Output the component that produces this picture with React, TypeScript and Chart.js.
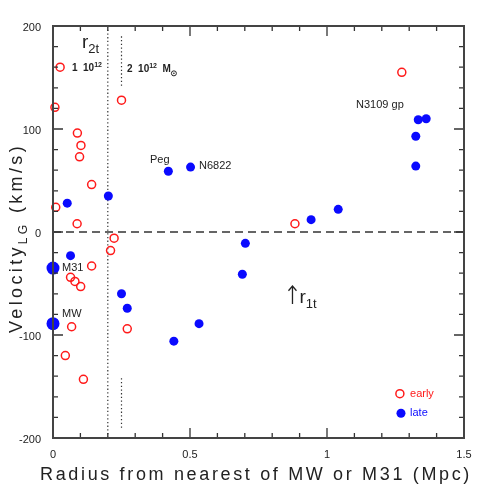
import React, { useEffect, useRef } from "react";
import { Chart, registerables } from "chart.js";

Chart.register(...registerables);

// ---- data ----
const earlyX = [0.026, 0.007, 0.25, 0.089, 0.102, 0.097, 0.141, 0.01, 0.088, 0.223, 0.21, 0.141, 0.064, 0.08, 0.101, 0.068, 0.271, 0.045, 0.111, 0.883, 1.273];
const earlyY = [160, 121, 128, 96, 84, 73, 46, 24, 8, -6, -18, -33, -44, -48, -53, -92, -94, -120, -143, 8, 155];

const lateX = [0.421, 0.502, 0.202, 0.052, 0.064, 0.25, 0.271, 0.533, 0.441, 0.942, 1.041, 0.702, 0.691, 1.333, 1.362, 1.324, 1.324];
const lateY = [59, 63, 35, 28, -23, -60, -74, -89, -106, 12, 22, -11, -41, 109, 110, 93, 64];

const hostNames = ["M31", "MW"];
const hostX = [0, 0];
const hostY = [-35, -89];

const xTickValues = [0, 0.5, 1, 1.5];
const xTickLabels = ["0", "0.5", "1", "1.5"];
const yTickValues = [-200, -100, 0, 100, 200];
const yTickLabels = ["-200", "-100", "0", "100", "200"];
const xMinorStep = 0.1;
const yMinorStep = 20;

const r2tLineX = 0.2;
const massMarkX = 0.25;
const massMarkUpper = [142, 190];
const massMarkLower = [-190, -142];

const RED = "#ff1a1a";
const BLUE = "#0a0aff";
const INK = "#222";
const FONT = "'Liberation Sans', Arial, sans-serif";

type Part = { t: string; size: number; dy?: number; bold?: boolean };

function measureParts(ctx: CanvasRenderingContext2D, parts: Part[]) {
  let w = 0;
  for (const p of parts) {
    ctx.font = `${p.bold ? "bold " : ""}${p.size}px ${FONT}`;
    w += ctx.measureText(p.t).width;
  }
  return w;
}

function drawParts(ctx: CanvasRenderingContext2D, parts: Part[], x: number, y: number) {
  let cx = x;
  for (const p of parts) {
    ctx.font = `${p.bold ? "bold " : ""}${p.size}px ${FONT}`;
    ctx.fillText(p.t, cx, y + (p.dy || 0));
    cx += ctx.measureText(p.t).width;
  }
  return cx - x;
}

const decorPlugin = {
  id: "decor",
  beforeDatasetsDraw(chart: any) {
    const ctx = chart.ctx as CanvasRenderingContext2D;
    const xs = chart.scales.x;
    const ys = chart.scales.y;
    const a = chart.chartArea;
    ctx.save();
    ctx.strokeStyle = "#333";
    ctx.lineWidth = 1.5;
    ctx.setLineDash([8, 5]);
    ctx.beginPath();
    ctx.moveTo(a.left, ys.getPixelForValue(0));
    ctx.lineTo(a.right, ys.getPixelForValue(0));
    ctx.stroke();
    ctx.lineWidth = 1.2;
    ctx.setLineDash([1.3, 2.4]);
    ctx.beginPath();
    ctx.moveTo(xs.getPixelForValue(r2tLineX), a.top);
    ctx.lineTo(xs.getPixelForValue(r2tLineX), a.bottom);
    ctx.stroke();
    for (const seg of [massMarkUpper, massMarkLower]) {
      ctx.beginPath();
      ctx.moveTo(xs.getPixelForValue(massMarkX), ys.getPixelForValue(seg[0]));
      ctx.lineTo(xs.getPixelForValue(massMarkX), ys.getPixelForValue(seg[1]));
      ctx.stroke();
    }
    ctx.restore();
  },
  afterDatasetsDraw(chart: any) {
    const ctx = chart.ctx as CanvasRenderingContext2D;
    const xs = chart.scales.x;
    const ys = chart.scales.y;
    const a = chart.chartArea;
    const X = (v: number) => xs.getPixelForValue(v);
    const Y = (v: number) => ys.getPixelForValue(v);
    ctx.save();
    ctx.strokeStyle = "#333";
    ctx.lineWidth = 1.3;
    ctx.setLineDash([]);
    const nx = Math.round((xs.max - xs.min) / xMinorStep);
    for (let i = 0; i <= nx; i++) {
      const v = xs.min + i * xMinorStep;
      const major = xTickValues.some((t) => Math.abs(t - v) < 1e-6);
      const len = major ? 10 : 5;
      const px = X(v);
      ctx.beginPath();
      ctx.moveTo(px, a.bottom); ctx.lineTo(px, a.bottom - len);
      ctx.moveTo(px, a.top); ctx.lineTo(px, a.top + len);
      ctx.stroke();
    }
    const ny = Math.round((ys.max - ys.min) / yMinorStep);
    for (let i = 0; i <= ny; i++) {
      const v = ys.min + i * yMinorStep;
      const major = yTickValues.some((t) => Math.abs(t - v) < 1e-6);
      const len = major ? 10 : 5;
      const py = Y(v);
      ctx.beginPath();
      ctx.moveTo(a.left, py); ctx.lineTo(a.left + len, py);
      ctx.moveTo(a.right, py); ctx.lineTo(a.right - len, py);
      ctx.stroke();
    }
    ctx.strokeStyle = "#444";
    ctx.lineWidth = 2;
    ctx.strokeRect(a.left, a.top, a.right - a.left, a.bottom - a.top);

    ctx.fillStyle = INK;
    ctx.font = `11px ${FONT}`;
    ctx.textAlign = "right";
    ctx.textBaseline = "middle";
    yTickValues.forEach((v, i) => ctx.fillText(yTickLabels[i], a.left - 12, Y(v) + 2));
    ctx.textAlign = "center";
    xTickValues.forEach((v, i) => ctx.fillText(xTickLabels[i], X(v), a.bottom + 17));

    // x title
    const xt = "Radius from nearest of MW or M31 (Mpc)";
    ctx.font = `18px ${FONT}`;
    ctx.textAlign = "left";
    ctx.textBaseline = "alphabetic";
    (ctx as any).letterSpacing = "0px";
    const w0 = ctx.measureText(xt).width;
    (ctx as any).letterSpacing = `${(432 - w0) / xt.length}px`;
    ctx.fillText(xt, 40, 480);
    (ctx as any).letterSpacing = "0px";

    // y title
    const yParts: Part[] = [
      { t: "Velocity", size: 18 },
      { t: "LG", size: 12, dy: 5 },
      { t: " (km/s)", size: 18 },
    ];
    const yw = measureParts(ctx, yParts);
    const nChars = yParts.reduce((s, p) => s + p.t.length, 0);
    ctx.save();
    ctx.translate(22, 333);
    ctx.rotate(-Math.PI / 2);
    (ctx as any).letterSpacing = `${(190 - yw) / nChars}px`;
    drawParts(ctx, yParts, 0, 0);
    (ctx as any).letterSpacing = "0px";
    ctx.restore();

    // annotations
    ctx.fillStyle = INK;
    ctx.textBaseline = "middle";
    ctx.font = `11px ${FONT}`;
    ctx.fillText("Peg", X(0.354), Y(70));
    ctx.fillText("N6822", X(0.533), Y(64));
    ctx.fillText("N3109 gp", X(1.106), Y(123));
    hostNames.forEach((n, i) => {
      const dy = i === 0 ? 0 : 9.5;
      ctx.fillText(n, X(hostX[i] + 0.033), Y(hostY[i] + dy));
    });

    ctx.textBaseline = "alphabetic";
    drawParts(ctx, [
      { t: "r", size: 19 },
      { t: "2t", size: 13, dy: 5 },
    ], X(0.106), Y(179));
    drawParts(ctx, [
      { t: "1  10", size: 10, bold: true },
      { t: "12", size: 7, dy: -4, bold: true },
    ], X(0.069), Y(156));
    const w = drawParts(ctx, [
      { t: "2  10", size: 10, bold: true },
      { t: "12", size: 7, dy: -4, bold: true },
      { t: "  M", size: 10, bold: true },
    ], X(0.27), Y(155));
    const sx = X(0.27) + w + 3;
    const sy = Y(155) + 1;
    ctx.beginPath();
    ctx.lineWidth = 1;
    ctx.strokeStyle = INK;
    ctx.arc(sx, sy, 2.5, 0, Math.PI * 2);
    ctx.stroke();
    ctx.beginPath();
    ctx.arc(sx, sy, 0.8, 0, Math.PI * 2);
    ctx.fill();

    // r1t arrow
    const ax = X(0.874);
    ctx.strokeStyle = INK;
    ctx.lineWidth = 1.3;
    ctx.beginPath();
    ctx.moveTo(ax, Y(-70));
    ctx.lineTo(ax, Y(-53));
    ctx.moveTo(ax - 4, Y(-57));
    ctx.lineTo(ax, Y(-52.5));
    ctx.lineTo(ax + 4, Y(-57));
    ctx.stroke();
    drawParts(ctx, [
      { t: "r", size: 19 },
      { t: "1t", size: 13, dy: 5 },
    ], ax + 7, Y(-69));

    // legend
    ctx.lineWidth = 1.5;
    ctx.strokeStyle = RED;
    ctx.beginPath();
    ctx.arc(X(1.266), Y(-157), 4, 0, Math.PI * 2);
    ctx.stroke();
    ctx.fillStyle = BLUE;
    ctx.beginPath();
    ctx.arc(X(1.27), Y(-176), 4.5, 0, Math.PI * 2);
    ctx.fill();
    ctx.font = `11px ${FONT}`;
    ctx.textBaseline = "middle";
    ctx.fillStyle = RED;
    ctx.fillText("early", X(1.303), Y(-157));
    ctx.fillStyle = BLUE;
    ctx.fillText("late", X(1.303), Y(-176));
    ctx.restore();
  },
};

export default function App() {
  const ref = useRef<HTMLCanvasElement | null>(null);
  useEffect(() => {
    document.body.style.margin = "0";
    const canvas = ref.current!;
    const chart = new Chart(canvas, {
      type: "scatter",
      data: {
        datasets: [
          {
            label: "early",
            data: earlyX.map((x, i) => ({ x, y: earlyY[i] })),
            pointStyle: "circle",
            pointRadius: 4,
            pointBorderWidth: 1.5,
            borderColor: RED,
            backgroundColor: "rgba(0,0,0,0)",
          },
          {
            label: "late",
            data: lateX.map((x, i) => ({ x, y: lateY[i] })),
            pointRadius: 4.5,
            pointBorderWidth: 0,
            borderColor: BLUE,
            backgroundColor: BLUE,
          },
          {
            label: "hosts",
            data: hostX.map((x, i) => ({ x, y: hostY[i] })),
            pointRadius: 6.5,
            pointBorderWidth: 0,
            borderColor: BLUE,
            backgroundColor: BLUE,
          },
        ],
      },
      options: {
        responsive: false,
        animation: false,
        clip: false as any,
        layout: { padding: { left: 53, right: 27, top: 26, bottom: 53 } },
        plugins: { legend: { display: false }, tooltip: { enabled: false } },
        scales: {
          x: { type: "linear", min: 0, max: 1.5, display: false },
          y: { type: "linear", min: -200, max: 200, display: false },
        },
      },
      plugins: [decorPlugin],
    });
    return () => chart.destroy();
  }, []);
  return <canvas ref={ref} width={491} height={491} style={{ display: "block" }} />;
}
